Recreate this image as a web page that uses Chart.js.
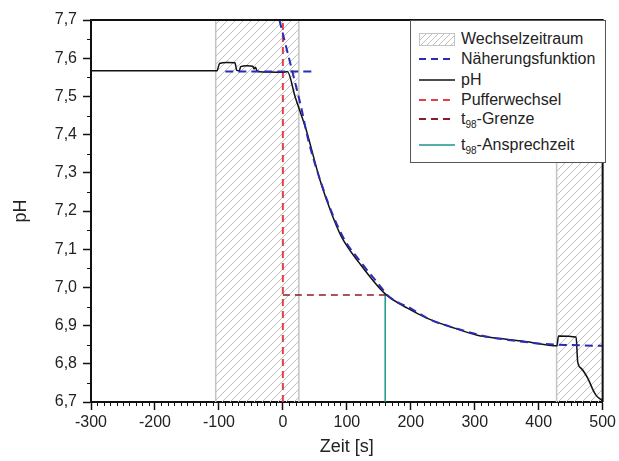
<!DOCTYPE html>
<html>
<head>
<meta charset="utf-8">
<title>pH Ansprechzeit</title>
<script src="https://cdn.jsdelivr.net/npm/chart.js@4.4.0/dist/chart.umd.min.js"></script>
<style>
    html, body { margin: 0; padding: 0; background: #fff; }
    #wrap { position: relative; width: 619px; height: 461px; font-family: "Liberation Sans", Arial, sans-serif; }
    #chartPh { display: block; }
    #legend { position: absolute; left: 410px; top: 20px; width: 196px; height: 143px; border: 1px solid #555; background: #fff; box-sizing: border-box; }
    .row { position: absolute; left: 0; height: 20px; line-height: 20px; font-size: 16px; color: #222; white-space: nowrap; }
    .row svg { position: absolute; left: 8px; top: 0; }
    .row span { position: absolute; left: 50px; }
    .row sub { font-size: 10px; vertical-align: -4px; line-height: 0; }
</style>
</head>
<body>
<div id="wrap">
    <canvas id="chartPh" width="619" height="461"></canvas>
    <div id="legend">
        <div class="row" style="top:8px">
            <svg width="36" height="20">
                <defs>
                    <pattern id="hatch" width="6" height="6" patternUnits="userSpaceOnUse">
                        <path d="M0,6 L6,0 M-1,1 L1,-1 M5,7 L7,5" stroke="#c0c0c0" stroke-width="1"/>
                    </pattern>
                </defs>
                <rect x="0.5" y="4.5" width="35" height="12" fill="url(#hatch)" stroke="#c4c4c4"/>
            </svg>
            <span>Wechselzeitraum</span>
        </div>
        <div class="row" style="top:28px">
            <svg width="36" height="20"><line x1="0" y1="10" x2="36" y2="10" stroke="#2b2bb3" stroke-width="2" stroke-dasharray="7 5"/></svg>
            <span>Näherungsfunktion</span>
        </div>
        <div class="row" style="top:49px">
            <svg width="36" height="20"><line x1="0" y1="10" x2="36" y2="10" stroke="#111" stroke-width="1.5"/></svg>
            <span>pH</span>
        </div>
        <div class="row" style="top:69px">
            <svg width="36" height="20"><line x1="0" y1="10" x2="36" y2="10" stroke="#e0404a" stroke-width="2" stroke-dasharray="7 5"/></svg>
            <span>Pufferwechsel</span>
        </div>
        <div class="row" style="top:88px">
            <svg width="36" height="20"><line x1="0" y1="10" x2="36" y2="10" stroke="#8e1c24" stroke-width="2" stroke-dasharray="7 5"/></svg>
            <span>t<sub>98</sub>-Grenze</span>
        </div>
        <div class="row" style="top:114px">
            <svg width="36" height="20"><line x1="0" y1="10" x2="36" y2="10" stroke="#1a9688" stroke-width="1.5"/></svg>
            <span>t<sub>98</sub>-Ansprechzeit</span>
        </div>
    </div>
</div>
<script>
// Messwerte (pH über Zeit)
const phTime  = [-300, -103, -99, -88, -75, -72, -68, -66, -56, -47, -45, -43, -40, -30, 0, 7,
                 19, 36.5, 58, 76, 91.5, 120, 160, 195.5, 226, 262, 304, 340, 382, 428.5,
                 431, 458.5, 461, 466.5, 478, 484.5, 489.5, 500];
const phValue = [7.567, 7.567, 7.586, 7.589, 7.588, 7.568, 7.567, 7.578, 7.580, 7.579, 7.572, 7.576, 7.566, 7.564, 7.563, 7.565,
                 7.500, 7.412, 7.281, 7.194, 7.133, 7.063, 6.983, 6.945, 6.919, 6.897, 6.875, 6.866, 6.858, 6.847,
                 6.873, 6.870, 6.805, 6.788, 6.758, 6.733, 6.718, 6.703];

// Näherungsfunktion (Basislinie + Abfall)
const baseTime  = [-90, 52];
const baseValue = [7.565, 7.565];
const fitTime   = [-5.4, 14.8, 28.8, 39.7, 59.9, 78, 96.7, 120, 148.5, 166.7, 200, 231, 270, 319.6, 360, 408, 450, 500];
const fitValue  = [7.700, 7.565, 7.470, 7.386, 7.273, 7.190, 7.124, 7.070, 7.011, 6.975, 6.945, 6.915, 6.893, 6.871, 6.861, 6.852, 6.849, 6.847];

// Hilfslinien
const pufferTime     = [0, 0];
const pufferValue    = [6.7, 7.7];
const grenzeTime     = [0, 160];
const grenzeValue    = [6.98, 6.98];
const ansprechTime   = [160, 160];
const ansprechValue  = [6.7, 6.98];

// Wechselzeiträume (schraffiert)
const wechselStart = [-105, 428];
const wechselEnd   = [25, 500];

// Achsen
const xTicks = [-300, -200, -100, 0, 100, 200, 300, 400, 500];
const yTicks = [6.7, 6.8, 6.9, 7.0, 7.1, 7.2, 7.3, 7.4, 7.5, 7.6, 7.7];

function toXY(xs, ys) {
    return xs.map((x, i) => ({ x: x, y: ys[i] }));
}

// Schraffur-Muster
const patCanvas = document.createElement("canvas");
patCanvas.width = 8;
patCanvas.height = 8;
const pg = patCanvas.getContext("2d");
pg.strokeStyle = "#bdbdbd";
pg.lineWidth = 1;
pg.beginPath();
pg.moveTo(0, 8); pg.lineTo(8, 0);
pg.moveTo(-1, 1); pg.lineTo(1, -1);
pg.moveTo(7, 9); pg.lineTo(9, 7);
pg.stroke();
const ctx = document.getElementById("chartPh").getContext("2d");
const hatch = ctx.createPattern(patCanvas, "repeat");

const yMin = yTicks[0];
const yMax = yTicks[yTicks.length - 1];

const hatchSets = wechselStart.map((s, i) => ({
    data: toXY([s, s, wechselEnd[i], wechselEnd[i]], [yMin, yMax, yMax, yMin]),
    showLine: true,
    fill: "start",
    backgroundColor: hatch,
    borderColor: "#c4c4c4",
    borderWidth: 1.5,
    pointRadius: 0,
    order: 10
}));

// kleine Ticks + Rahmen oben/rechts
const frameAndMinorTicks = {
    id: "frameAndMinorTicks",
    afterDraw(chart) {
        const { ctx, chartArea: a, scales: { x, y } } = chart;
        ctx.save();
        ctx.strokeStyle = "#111";
        ctx.lineWidth = 1;
        ctx.beginPath();
        for (let v = xTicks[0]; v <= xTicks[xTicks.length - 1]; v += 10) {
            if (v % 100 === 0) continue;
            const px = Math.round(x.getPixelForValue(v)) + 0.5;
            ctx.moveTo(px, a.bottom);
            ctx.lineTo(px, a.bottom + 4);
        }
        for (let i = 0; i < yTicks.length - 1; i++) {
            const py = Math.round(y.getPixelForValue((yTicks[i] + yTicks[i + 1]) / 2)) + 0.5;
            ctx.moveTo(a.left - 4, py);
            ctx.lineTo(a.left, py);
        }
        ctx.stroke();
        ctx.lineWidth = 2;
        ctx.beginPath();
        ctx.moveTo(a.left, a.top);
        ctx.lineTo(a.right, a.top);
        ctx.lineTo(a.right, a.bottom);
        ctx.stroke();
        ctx.restore();
    }
};

new Chart(ctx, {
    type: "scatter",
    data: {
        datasets: [
            ...hatchSets,
            {
                data: toXY(pufferTime, pufferValue),
                showLine: true, borderColor: "#e0404a", borderWidth: 2, borderDash: [7, 5],
                pointRadius: 0, order: 4
            },
            {
                data: toXY(grenzeTime, grenzeValue),
                showLine: true, borderColor: "#8e1c24", borderWidth: 1.5, borderDash: [7, 5],
                pointRadius: 0, order: 4
            },
            {
                data: toXY(ansprechTime, ansprechValue),
                showLine: true, borderColor: "#1a9688", borderWidth: 1.5,
                pointRadius: 0, order: 4
            },
            {
                data: toXY(phTime, phValue),
                showLine: true, borderColor: "#111", borderWidth: 1.5,
                cubicInterpolationMode: "monotone",
                pointRadius: 0, order: 2
            },
            {
                data: toXY(baseTime, baseValue),
                showLine: true, borderColor: "#2b2bb3", borderWidth: 2, borderDash: [8, 5],
                pointRadius: 0, order: 1
            },
            {
                data: toXY(fitTime, fitValue),
                showLine: true, borderColor: "#2b2bb3", borderWidth: 2, borderDash: [8, 5],
                cubicInterpolationMode: "monotone",
                pointRadius: 0, order: 1
            }
        ]
    },
    options: {
        responsive: false,
        animation: false,
        layout: { padding: { left: 0, top: 20, right: 13, bottom: 0 } },
        plugins: {
            legend: { display: false },
            tooltip: { enabled: false }
        },
        scales: {
            x: {
                type: "linear",
                min: xTicks[0],
                max: xTicks[xTicks.length - 1],
                afterFit: s => { s.height = 59; },
                afterBuildTicks: s => { s.ticks = xTicks.map(v => ({ value: v })); },
                ticks: {
                    color: "#222",
                    padding: 3,
                    maxRotation: 0,
                    font: { family: "'Liberation Sans', Arial, sans-serif", size: 16 },
                    callback: v => String(v)
                },
                grid: { drawOnChartArea: false, drawTicks: true, tickLength: 8, tickWidth: 1.5, tickColor: "#111" },
                border: { display: true, color: "#111", width: 2 },
                title: {
                    display: true,
                    text: "Zeit [s]",
                    color: "#222",
                    padding: { top: 0, bottom: 3 },
                    font: { family: "'Liberation Sans', Arial, sans-serif", size: 18 }
                }
            },
            y: {
                type: "linear",
                min: yMin,
                max: yMax,
                afterFit: s => { s.width = 91; },
                afterBuildTicks: s => { s.ticks = yTicks.map(v => ({ value: v })); },
                ticks: {
                    color: "#222",
                    padding: 6,
                    font: { family: "'Liberation Sans', Arial, sans-serif", size: 16 },
                    callback: v => v.toFixed(1).replace(".", ",")
                },
                grid: { drawOnChartArea: false, drawTicks: true, tickLength: 8, tickWidth: 1.5, tickColor: "#111" },
                border: { display: true, color: "#111", width: 2 },
                title: {
                    display: true,
                    text: "pH",
                    color: "#222",
                    padding: { top: 10, bottom: 0 },
                    font: { family: "'Liberation Sans', Arial, sans-serif", size: 18 }
                }
            }
        }
    },
    plugins: [frameAndMinorTicks]
});
</script>
</body>
</html>
